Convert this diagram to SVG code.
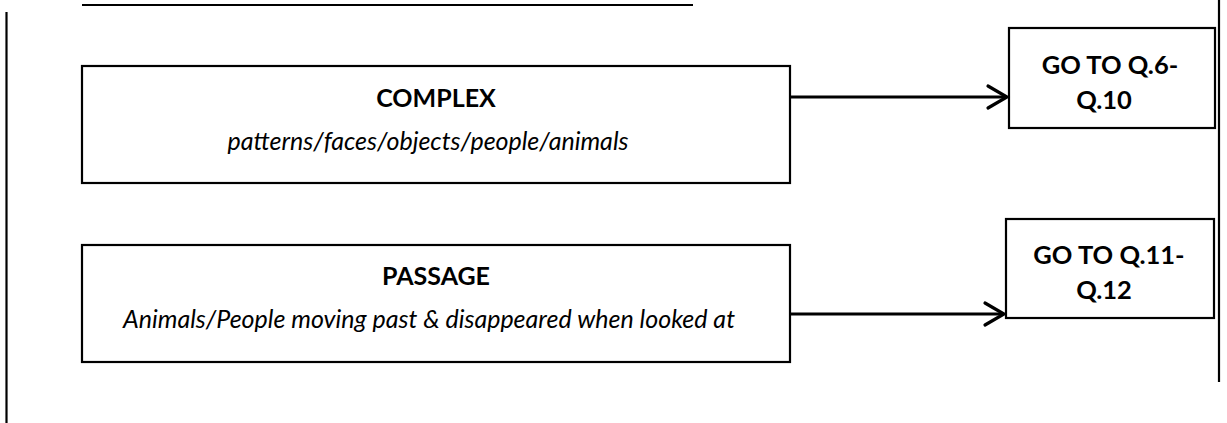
<svg xmlns="http://www.w3.org/2000/svg" width="1227" height="423" viewBox="0 0 1227 423">
  <style>
    .box { fill: #ffffff; stroke: #000000; stroke-width: 2.2; }
    .rule { stroke: #000000; stroke-width: 2.2; fill: none; }
    .title { font-family: Lato, "Liberation Sans", sans-serif; font-weight: bold; font-size: 25px; text-anchor: middle; fill: #000000; }
    .desc { font-family: Lato, "Liberation Sans", sans-serif; font-style: italic; font-size: 25px; text-anchor: middle; fill: #000000; }
    .goto { font-family: Lato, "Liberation Sans", sans-serif; font-weight: bold; font-size: 25.5px; text-anchor: middle; fill: #000000; }
    .link { stroke: #000000; stroke-width: 3.2; fill: none; }
    .head { stroke: #000000; stroke-width: 3.2; fill: none; stroke-linecap: round; stroke-linejoin: miter; }
  </style>

  <!-- page rules -->
  <g id="frame">
    <line class="rule" x1="82" y1="5" x2="693" y2="5"/>
    <line class="rule" x1="6.5" y1="12" x2="6.5" y2="423"/>
    <line class="rule" x1="1219" y1="0" x2="1219" y2="382"/>
  </g>

  <g id="complex">
    <rect class="box" x="82" y="66" width="708" height="117"/>
    <text class="title" x="436" y="107">COMPLEX</text>
    <text class="desc" x="428" y="150">patterns/faces/objects/people/animals</text>
  </g>

  <g id="passage">
    <rect class="box" x="82" y="245" width="708" height="117"/>
    <text class="title" x="436" y="285">PASSAGE</text>
    <text class="desc" x="429" y="328">Animals/People moving past &amp; disappeared when looked at</text>
  </g>

  <g id="goto-q6">
    <rect class="box" x="1009" y="28" width="206" height="100"/>
    <text class="goto" x="1110" y="74">GO TO Q.6-</text>
    <text class="goto" x="1104" y="109">Q.10</text>
  </g>

  <g id="goto-q11">
    <rect class="box" x="1006" y="219" width="208" height="99"/>
    <text class="goto" x="1109" y="264">GO TO Q.11-</text>
    <text class="goto" x="1104" y="299">Q.12</text>
  </g>

  <!-- connectors -->
  <g id="connectors">
    <line class="link" x1="790" y1="97" x2="1007" y2="97"/>
    <polyline class="head" points="988,86 1007,97 988,108"/>
    <line class="link" x1="790" y1="314" x2="1004" y2="314"/>
    <polyline class="head" points="985,303 1004,314 985,325"/>
  </g>
</svg>
